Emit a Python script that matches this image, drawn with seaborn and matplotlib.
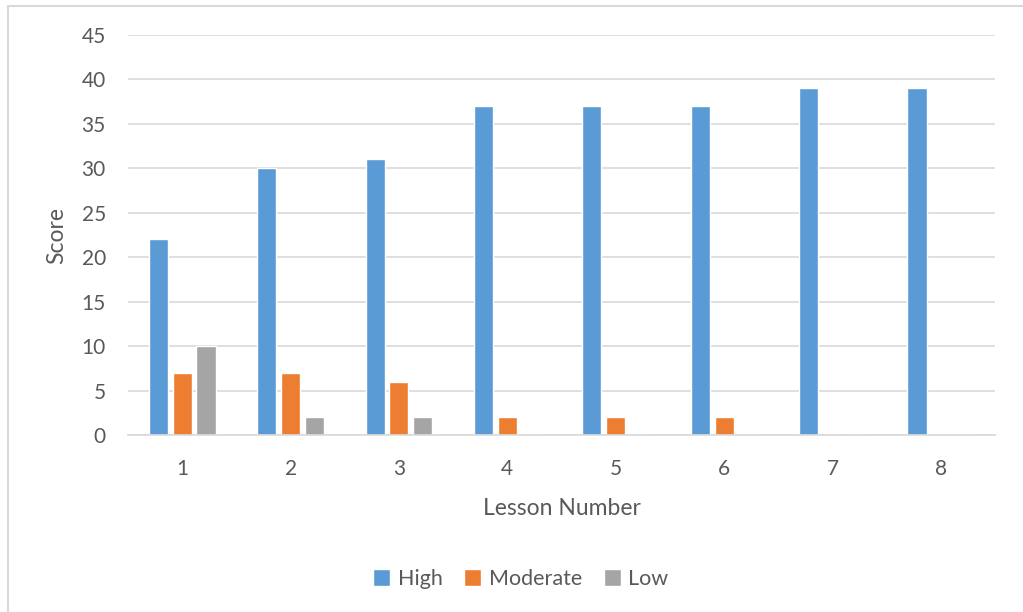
import numpy as np
import pandas as pd
import matplotlib as mpl
import matplotlib.pyplot as plt
import seaborn as sns

lessons = ['1', '2', '3', '4', '5', '6', '7', '8']
high = [22, 30, 31, 37, 37, 37, 39, 39]
moderate = [7, 7, 6, 2, 2, 2, 0, 0]
low = [10, 2, 2, 0, 0, 0, 0, 0]
levels = ['High', 'Moderate', 'Low']
colors = ['#5B9BD5', '#ED7D31', '#A5A5A5']

df = pd.DataFrame({
    'Lesson': lessons * 3,
    'Score': high + moderate + low,
    'Level': ['High'] * 8 + ['Moderate'] * 8 + ['Low'] * 8,
})

sns.set_style('white')
plt.rcParams['font.family'] = ['Lato', 'DejaVu Sans']
txt = '#595959'

fig = plt.figure(figsize=(10.23, 6.12), dpi=100)
ax = fig.add_axes([128 / 1023, 1 - 435 / 612, 867 / 1023, 400 / 612])

sns.barplot(data=df, x='Lesson', y='Score', hue='Level', hue_order=levels,
            palette=colors, width=0.66, gap=0.2, ax=ax, legend=True,
            saturation=1)

ax.set_ylim(0, 45)
ax.set_yticks(np.arange(0, 46, 5))
ax.set_xlim(-0.5, 7.5)
ax.yaxis.grid(True, color='#D9D9D9', linewidth=1.2)
ax.set_axisbelow(True)
for s in ['top', 'right', 'left']:
    ax.spines[s].set_visible(False)
ax.spines['bottom'].set_color('#D9D9D9')
ax.spines['bottom'].set_linewidth(1.2)
ax.tick_params(axis='both', length=0, labelsize=15, colors=txt)
ax.tick_params(axis='y', pad=16)
ax.tick_params(axis='x', pad=17)
ax.set_xlabel('Lesson Number', fontsize=16.5, color=txt, labelpad=14)
ax.set_ylabel('Score', fontsize=16.5, color=txt, labelpad=10)

ax.legend(loc='center', bbox_to_anchor=(0.453, -0.36), ncol=3, frameon=False,
          fontsize=15.5, labelcolor=txt, handlelength=0.8, handleheight=0.8,
          handletextpad=0.35, columnspacing=1.0)

fig.patches.append(mpl.patches.Rectangle(
    (7.5 / 1023, -0.1), 1.2, 1 - 6 / 612 + 0.1, transform=fig.transFigure,
    fill=False, edgecolor='#D9D9D9', linewidth=1.5))

fig.savefig('out.png', dpi=100)
